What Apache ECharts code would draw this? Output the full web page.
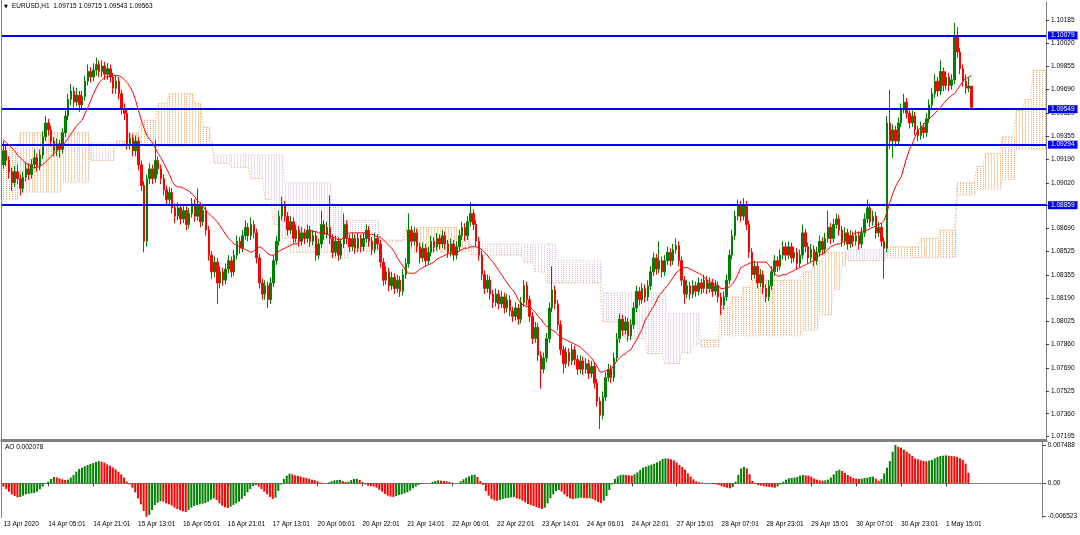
<!DOCTYPE html>
<html><head><meta charset="utf-8">
<script src="https://cdn.jsdelivr.net/npm/echarts@6.0.0/dist/echarts.min.js"></script>
<style>html,body{margin:0;padding:0;background:#fff}#c{width:1080px;height:535px}</style>
</head><body><div id="c"></div>
<script>
const titleText = 'EURUSD,H1  1.09715 1.09715 1.09543 1.09563';
const aoTitle = 'AO 0.002078';
const timeLabels = ['13 Apr 2020','14 Apr 05:01','14 Apr 21:01','15 Apr 13:01','16 Apr 05:01','16 Apr 21:01','17 Apr 13:01','20 Apr 06:01','20 Apr 22:01','21 Apr 14:01','22 Apr 06:01','22 Apr 22:01','23 Apr 14:01','24 Apr 06:01','24 Apr 22:01','27 Apr 15:01','28 Apr 07:01','28 Apr 23:01','29 Apr 15:01','30 Apr 07:01','30 Apr 23:01','1 May 15:01'];
const priceTicks = [1.10185,1.10020,1.09855,1.09690,1.09520,1.09355,1.09190,1.09020,1.08855,1.08690,1.08525,1.08355,1.08190,1.08025,1.07860,1.07690,1.07525,1.07360,1.07195];
const aoTicks = [0.007488, 0, -0.006523];
const levels = [1.10079, 1.09549, 1.09294, 1.08859];

const opens = [
1.0915,1.0925,1.0918,1.0910,1.0902,1.0910,1.0905,1.0898,1.0906,1.0912,
1.0908,1.0915,1.0920,1.0914,1.0922,1.0935,1.0945,1.0940,1.0932,1.0925,
1.0930,1.0926,1.0938,1.0950,1.0962,1.0968,1.0960,1.0965,1.0958,1.0964,
1.0975,1.0982,1.0978,1.0983,1.0987,1.0982,1.0986,1.0980,1.0984,1.0978,
1.0970,1.0975,1.0966,1.0955,1.0952,1.0930,1.0934,1.0925,1.0932,1.0915,
1.0900,1.0860,1.0905,1.0912,1.0905,1.0918,1.0912,1.0905,1.0897,1.0890,
1.0895,1.0884,1.0878,1.0884,1.0876,1.0882,1.0872,1.0880,1.0887,1.0878,
1.0885,1.0874,1.0882,1.0868,1.0850,1.0838,1.0845,1.0830,1.0838,1.0832,
1.0840,1.0846,1.0838,1.0850,1.0860,1.0855,1.0864,1.0870,1.0864,1.0872,
1.0866,1.0848,1.0830,1.0822,1.0828,1.0818,1.0830,1.0846,1.0860,1.0878,
1.0886,1.0878,1.0868,1.0874,1.0862,1.0868,1.0860,1.0866,1.0862,1.0868,
1.0860,1.0864,1.0850,1.0858,1.0872,1.0865,1.0870,1.0862,1.0852,1.0860,
1.0850,1.0858,1.0872,1.0862,1.0856,1.0862,1.0855,1.0862,1.0856,1.0862,
1.0868,1.0860,1.0854,1.0862,1.0858,1.0845,1.0832,1.0838,1.0828,1.0834,
1.0826,1.0832,1.0824,1.0836,1.0844,1.0868,1.0860,1.0866,1.0856,1.0848,
1.0855,1.0846,1.0852,1.0860,1.0856,1.0862,1.0858,1.0864,1.0858,1.0852,
1.0858,1.0850,1.0856,1.0864,1.0870,1.0864,1.0874,1.0880,1.0872,1.0860,
1.0850,1.0836,1.0826,1.0832,1.0822,1.0816,1.0822,1.0815,1.0820,1.0812,
1.0818,1.0810,1.0806,1.0812,1.0804,1.0816,1.0828,1.0818,1.0806,1.0790,
1.0798,1.0778,1.0768,1.0776,1.0790,1.0812,1.0825,1.0815,1.0800,1.0782,
1.0772,1.0780,1.0774,1.0782,1.0775,1.0768,1.0774,1.0768,1.0772,1.0765,
1.0770,1.0758,1.0745,1.0735,1.0748,1.0762,1.0768,1.0762,1.0776,1.0790,
1.0804,1.0796,1.0802,1.0792,1.0800,1.0812,1.0824,1.0818,1.0826,1.0820,
1.0828,1.0838,1.0848,1.0840,1.0846,1.0838,1.0846,1.0852,1.0846,1.0854,
1.0857,1.0846,1.0832,1.0822,1.0828,1.0822,1.0828,1.0824,1.0830,1.0826,
1.0832,1.0826,1.0830,1.0824,1.0828,1.0820,1.0814,1.0820,1.0832,1.0850,
1.0864,1.0878,1.0886,1.0878,1.0886,1.0872,1.0852,1.0836,1.0842,1.0830,
1.0836,1.0826,1.0820,1.0828,1.0838,1.0846,1.0842,1.0850,1.0856,1.0850,
1.0856,1.0848,1.0852,1.0844,1.0850,1.0866,1.0856,1.0848,1.0854,1.0846,
1.0852,1.0860,1.0854,1.0862,1.0870,1.0862,1.0872,1.0876,1.0868,1.0860,
1.0866,1.0858,1.0864,1.0860,1.0864,1.0858,1.0866,1.0876,1.0884,1.0874,
1.0878,1.0866,1.0870,1.0860,1.0855,1.0945,1.0932,1.0940,1.0932,1.0945,
1.0955,1.0960,1.0952,1.0945,1.0950,1.0940,1.0936,1.0942,1.0938,1.0948,
1.0958,1.0966,1.0975,1.0968,1.0982,1.0972,1.0978,1.0972,1.0976,1.1007,
1.0996,1.0984,1.0975,1.0970,1.09715];

const highs = [
1.0932,1.0929,1.0921,1.0913,1.0914,1.0915,1.0908,1.0910,1.0917,1.0916,
1.0919,1.0926,1.0923,1.0926,1.0939,1.0950,1.0948,1.0943,1.0935,1.0934,
1.0933,1.0941,1.0954,1.0966,1.0973,1.0971,1.0970,1.0968,1.0968,1.0979,
1.0987,1.0985,1.0988,1.0992,1.0990,1.0990,1.0989,1.0988,1.0987,1.0981,
1.0979,1.0978,1.0969,1.0959,1.0955,1.0938,1.0937,1.0936,1.0935,1.0918,
1.0903,1.0908,1.0916,1.0915,1.0933,1.0921,1.0915,1.0908,1.0900,1.0899,
1.0898,1.0887,1.0888,1.0887,1.0886,1.0885,1.0884,1.0891,1.0890,1.0898,
1.0888,1.0886,1.0885,1.0871,1.0853,1.0849,1.0848,1.0842,1.0841,1.0844,
1.0850,1.0849,1.0854,1.0864,1.0863,1.0868,1.0875,1.0873,1.0877,1.0875,
1.0869,1.0851,1.0833,1.0832,1.0831,1.0834,1.0850,1.0864,1.0882,1.0892,
1.0889,1.0881,1.0878,1.0877,1.0872,1.0871,1.0870,1.0869,1.0872,1.0871,
1.0868,1.0867,1.0862,1.0882,1.0875,1.0874,1.0893,1.0865,1.0864,1.0863,
1.0862,1.0880,1.0875,1.0865,1.0866,1.0865,1.0866,1.0865,1.0866,1.0872,
1.0871,1.0863,1.0866,1.0865,1.0861,1.0848,1.0842,1.0841,1.0838,1.0837,
1.0836,1.0835,1.0840,1.0848,1.0880,1.0871,1.0870,1.0869,1.0859,1.0859,
1.0858,1.0856,1.0864,1.0863,1.0866,1.0865,1.0868,1.0867,1.0861,1.0862,
1.0861,1.0860,1.0868,1.0874,1.0873,1.0878,1.0888,1.0883,1.0875,1.0863,
1.0853,1.0839,1.0836,1.0835,1.0825,1.0826,1.0825,1.0824,1.0823,1.0822,
1.0821,1.0813,1.0816,1.0815,1.0820,1.0832,1.0831,1.0821,1.0809,1.0802,
1.0801,1.0781,1.0780,1.0794,1.0816,1.0842,1.0828,1.0818,1.0803,1.0785,
1.0784,1.0783,1.0786,1.0785,1.0778,1.0778,1.0777,1.0776,1.0775,1.0774,
1.0773,1.0761,1.0748,1.0752,1.0766,1.0772,1.0771,1.0780,1.0794,1.0808,
1.0807,1.0806,1.0805,1.0804,1.0816,1.0828,1.0827,1.0830,1.0829,1.0832,
1.0842,1.0852,1.0851,1.0860,1.0849,1.0850,1.0856,1.0855,1.0858,1.0862,
1.0860,1.0849,1.0835,1.0832,1.0831,1.0832,1.0831,1.0834,1.0833,1.0836,
1.0835,1.0834,1.0833,1.0832,1.0831,1.0823,1.0824,1.0836,1.0854,1.0868,
1.0882,1.0890,1.0889,1.0891,1.0889,1.0875,1.0855,1.0846,1.0845,1.0840,
1.0839,1.0829,1.0832,1.0842,1.0850,1.0849,1.0854,1.0860,1.0859,1.0860,
1.0859,1.0856,1.0855,1.0854,1.0872,1.0869,1.0859,1.0858,1.0857,1.0856,
1.0864,1.0863,1.0866,1.0882,1.0873,1.0876,1.0880,1.0879,1.0871,1.0870,
1.0869,1.0868,1.0867,1.0868,1.0867,1.0870,1.0880,1.0890,1.0887,1.0882,
1.0881,1.0874,1.0873,1.0863,1.0950,1.0969,1.0944,1.0943,1.0949,1.0959,
1.0966,1.0963,1.0955,1.0954,1.0953,1.0943,1.0946,1.0945,1.0952,1.0962,
1.0970,1.0980,1.0978,1.0990,1.0985,1.0982,1.0981,1.0980,1.1017,1.1014,
1.0999,1.0987,1.0980,1.0978,1.09715];

const lows = [
1.0912,1.0914,1.0905,1.0896,1.0899,1.0901,1.0893,1.0895,1.0903,1.0904,
1.0905,1.0912,1.0910,1.0911,1.0919,1.0932,1.0936,1.0928,1.0921,1.0921,
1.0920,1.0923,1.0935,1.0947,1.0958,1.0956,1.0957,1.0953,1.0955,1.0961,
1.0972,1.0974,1.0975,1.0979,1.0978,1.0978,1.0976,1.0976,1.0974,1.0966,
1.0966,1.0962,1.0951,1.0947,1.0926,1.0926,1.0921,1.0921,1.0911,1.0896,
1.0852,1.0856,1.0901,1.0901,1.0902,1.0908,1.0901,1.0893,1.0886,1.0886,
1.0880,1.0873,1.0875,1.0872,1.0873,1.0868,1.0869,1.0877,1.0874,1.0875,
1.0870,1.0871,1.0864,1.0846,1.0833,1.0834,1.0815,1.0826,1.0828,1.0829,
1.0837,1.0834,1.0835,1.0847,1.0851,1.0852,1.0861,1.0860,1.0861,1.0862,
1.0844,1.0826,1.0818,1.0818,1.0812,1.0815,1.0827,1.0843,1.0857,1.0875,
1.0874,1.0864,1.0865,1.0858,1.0859,1.0856,1.0857,1.0858,1.0859,1.0856,
1.0857,1.0846,1.0847,1.0855,1.0861,1.0862,1.0858,1.0848,1.0849,1.0846,
1.0847,1.0855,1.0858,1.0852,1.0853,1.0851,1.0852,1.0852,1.0853,1.0859,
1.0856,1.0850,1.0851,1.0854,1.0841,1.0828,1.0829,1.0824,1.0825,1.0822,
1.0823,1.0820,1.0821,1.0833,1.0841,1.0856,1.0857,1.0852,1.0844,1.0845,
1.0842,1.0843,1.0849,1.0852,1.0853,1.0854,1.0855,1.0854,1.0848,1.0849,
1.0846,1.0847,1.0853,1.0861,1.0860,1.0861,1.0871,1.0868,1.0856,1.0846,
1.0832,1.0822,1.0823,1.0818,1.0812,1.0813,1.0811,1.0812,1.0808,1.0809,
1.0806,1.0802,1.0803,1.0800,1.0801,1.0813,1.0814,1.0802,1.0786,1.0787,
1.0774,1.0754,1.0765,1.0773,1.0787,1.0809,1.0811,1.0796,1.0778,1.0765,
1.0769,1.0770,1.0771,1.0771,1.0764,1.0765,1.0764,1.0765,1.0761,1.0762,
1.0754,1.0741,1.0725,1.0732,1.0745,1.0759,1.0758,1.0759,1.0773,1.0787,
1.0792,1.0793,1.0788,1.0789,1.0797,1.0809,1.0814,1.0815,1.0816,1.0817,
1.0825,1.0835,1.0836,1.0837,1.0834,1.0835,1.0843,1.0842,1.0843,1.0851,
1.0842,1.0828,1.0815,1.0819,1.0818,1.0819,1.0820,1.0821,1.0822,1.0823,
1.0822,1.0823,1.0820,1.0821,1.0816,1.0807,1.0811,1.0817,1.0829,1.0847,
1.0861,1.0875,1.0874,1.0875,1.0868,1.0848,1.0832,1.0833,1.0826,1.0827,
1.0822,1.0816,1.0817,1.0825,1.0835,1.0838,1.0839,1.0847,1.0846,1.0847,
1.0844,1.0845,1.0840,1.0841,1.0847,1.0852,1.0844,1.0845,1.0842,1.0843,
1.0849,1.0850,1.0851,1.0859,1.0858,1.0859,1.0869,1.0864,1.0856,1.0857,
1.0854,1.0855,1.0856,1.0857,1.0854,1.0855,1.0863,1.0873,1.0870,1.0871,
1.0862,1.0863,1.0856,1.0833,1.0852,1.0926,1.0920,1.0928,1.0929,1.0942,
1.0952,1.0948,1.0941,1.0942,1.0936,1.0932,1.0933,1.0934,1.0935,1.0945,
1.0955,1.0963,1.0964,1.0965,1.0968,1.0969,1.0968,1.0969,1.0973,1.0992,
1.0980,1.0971,1.0966,1.0967,1.09543];

const closes = [
1.0925,1.0918,1.0910,1.0902,1.0910,1.0905,1.0898,1.0906,1.0912,1.0908,
1.0915,1.0920,1.0914,1.0922,1.0935,1.0945,1.0940,1.0932,1.0925,1.0930,
1.0926,1.0938,1.0950,1.0962,1.0968,1.0960,1.0965,1.0958,1.0964,1.0975,
1.0982,1.0978,1.0983,1.0987,1.0982,1.0986,1.0980,1.0984,1.0978,1.0970,
1.0975,1.0966,1.0955,1.0952,1.0930,1.0934,1.0925,1.0932,1.0915,1.0900,
1.0860,1.0905,1.0912,1.0905,1.0918,1.0912,1.0905,1.0897,1.0890,1.0895,
1.0884,1.0878,1.0884,1.0876,1.0882,1.0872,1.0880,1.0887,1.0878,1.0885,
1.0874,1.0882,1.0868,1.0850,1.0838,1.0845,1.0830,1.0838,1.0832,1.0840,
1.0846,1.0838,1.0850,1.0860,1.0855,1.0864,1.0870,1.0864,1.0872,1.0866,
1.0848,1.0830,1.0822,1.0828,1.0818,1.0830,1.0846,1.0860,1.0878,1.0886,
1.0878,1.0868,1.0874,1.0862,1.0868,1.0860,1.0866,1.0862,1.0868,1.0860,
1.0864,1.0850,1.0858,1.0872,1.0865,1.0870,1.0862,1.0852,1.0860,1.0850,
1.0858,1.0872,1.0862,1.0856,1.0862,1.0855,1.0862,1.0856,1.0862,1.0868,
1.0860,1.0854,1.0862,1.0858,1.0845,1.0832,1.0838,1.0828,1.0834,1.0826,
1.0832,1.0824,1.0836,1.0844,1.0868,1.0860,1.0866,1.0856,1.0848,1.0855,
1.0846,1.0852,1.0860,1.0856,1.0862,1.0858,1.0864,1.0858,1.0852,1.0858,
1.0850,1.0856,1.0864,1.0870,1.0864,1.0874,1.0880,1.0872,1.0860,1.0850,
1.0836,1.0826,1.0832,1.0822,1.0816,1.0822,1.0815,1.0820,1.0812,1.0818,
1.0810,1.0806,1.0812,1.0804,1.0816,1.0828,1.0818,1.0806,1.0790,1.0798,
1.0778,1.0768,1.0776,1.0790,1.0812,1.0825,1.0815,1.0800,1.0782,1.0772,
1.0780,1.0774,1.0782,1.0775,1.0768,1.0774,1.0768,1.0772,1.0765,1.0770,
1.0758,1.0745,1.0735,1.0748,1.0762,1.0768,1.0762,1.0776,1.0790,1.0804,
1.0796,1.0802,1.0792,1.0800,1.0812,1.0824,1.0818,1.0826,1.0820,1.0828,
1.0838,1.0848,1.0840,1.0846,1.0838,1.0846,1.0852,1.0846,1.0854,1.0857,
1.0846,1.0832,1.0822,1.0828,1.0822,1.0828,1.0824,1.0830,1.0826,1.0832,
1.0826,1.0830,1.0824,1.0828,1.0820,1.0814,1.0820,1.0832,1.0850,1.0864,
1.0878,1.0886,1.0878,1.0886,1.0872,1.0852,1.0836,1.0842,1.0830,1.0836,
1.0826,1.0820,1.0828,1.0838,1.0846,1.0842,1.0850,1.0856,1.0850,1.0856,
1.0848,1.0852,1.0844,1.0850,1.0866,1.0856,1.0848,1.0854,1.0846,1.0852,
1.0860,1.0854,1.0862,1.0870,1.0862,1.0872,1.0876,1.0868,1.0860,1.0866,
1.0858,1.0864,1.0860,1.0864,1.0858,1.0866,1.0876,1.0884,1.0874,1.0878,
1.0866,1.0870,1.0860,1.0855,1.0945,1.0932,1.0940,1.0932,1.0945,1.0955,
1.0960,1.0952,1.0945,1.0950,1.0940,1.0936,1.0942,1.0938,1.0948,1.0958,
1.0966,1.0975,1.0968,1.0982,1.0972,1.0978,1.0972,1.0976,1.1007,1.0996,
1.0984,1.0975,1.0970,1.09715,1.09563];

const maValues = [
1.0933,1.0931,1.0929,1.0927,1.0925,1.0922,1.0920,1.0918,1.0916,1.0915,
1.0914,1.0913,1.0913,1.0914,1.0915,1.0917,1.0919,1.0921,1.0923,1.0925,
1.0927,1.0929,1.0931,1.0934,1.0937,1.0940,1.0943,1.0945,1.0947,1.0952,
1.0956,1.0961,1.0966,1.0970,1.0974,1.0976,1.0978,1.0978,1.0979,1.0979,
1.0979,1.0979,1.0978,1.0976,1.0974,1.0971,1.0967,1.0961,1.0954,1.0947,
1.0941,1.0936,1.0933,1.0931,1.0927,1.0923,1.0920,1.0916,1.0912,1.0908,
1.0903,1.0900,1.0899,1.0899,1.0898,1.0897,1.0896,1.0894,1.0892,1.0889,
1.0887,1.0885,1.0882,1.0880,1.0878,1.0876,1.0874,1.0871,1.0868,1.0865,
1.0862,1.0860,1.0858,1.0857,1.0856,1.0855,1.0854,1.0853,1.0852,1.0853,
1.0855,1.0856,1.0855,1.0853,1.0851,1.0850,1.0850,1.0851,1.0853,1.0854,
1.0855,1.0856,1.0857,1.0858,1.0858,1.0859,1.0861,1.0864,1.0866,1.0868,
1.0867,1.0867,1.0866,1.0866,1.0866,1.0865,1.0864,1.0863,1.0862,1.0861,
1.0861,1.0863,1.0865,1.0866,1.0866,1.0866,1.0866,1.0866,1.0866,1.0866,
1.0865,1.0865,1.0864,1.0863,1.0863,1.0861,1.0859,1.0857,1.0855,1.0852,
1.0848,1.0845,1.0842,1.0839,1.0837,1.0837,1.0837,1.0838,1.0840,1.0841,
1.0842,1.0843,1.0844,1.0845,1.0847,1.0848,1.0849,1.0850,1.0851,1.0851,
1.0852,1.0852,1.0853,1.0854,1.0855,1.0855,1.0856,1.0856,1.0856,1.0855,
1.0854,1.0852,1.0850,1.0847,1.0845,1.0842,1.0839,1.0836,1.0833,1.0830,
1.0827,1.0825,1.0822,1.0818,1.0815,1.0814,1.0813,1.0813,1.0811,1.0809,
1.0806,1.0804,1.0801,1.0799,1.0798,1.0796,1.0795,1.0793,1.0791,1.0790,
1.0789,1.0788,1.0787,1.0786,1.0785,1.0784,1.0782,1.0780,1.0778,1.0776,
1.0773,1.0770,1.0766,1.0766,1.0767,1.0767,1.0768,1.0771,1.0774,1.0776,
1.0778,1.0779,1.0781,1.0782,1.0786,1.0789,1.0793,1.0797,1.0803,1.0806,
1.0810,1.0813,1.0817,1.0821,1.0823,1.0826,1.0828,1.0831,1.0834,1.0837,
1.0839,1.0841,1.0841,1.0841,1.0840,1.0839,1.0838,1.0837,1.0836,1.0834,
1.0832,1.0831,1.0830,1.0829,1.0828,1.0826,1.0826,1.0827,1.0827,1.0829,
1.0832,1.0836,1.0841,1.0842,1.0843,1.0844,1.0845,1.0845,1.0845,1.0845,
1.0845,1.0845,1.0843,1.0840,1.0837,1.0835,1.0835,1.0836,1.0836,1.0837,
1.0838,1.0839,1.0840,1.0841,1.0842,1.0843,1.0844,1.0845,1.0846,1.0848,
1.0850,1.0851,1.0852,1.0854,1.0856,1.0857,1.0858,1.0858,1.0859,1.0860,
1.0862,1.0863,1.0865,1.0866,1.0866,1.0867,1.0868,1.0868,1.0869,1.0870,
1.0871,1.0872,1.0873,1.0875,1.0881,1.0888,1.0894,1.0899,1.0903,1.0906,
1.0913,1.0920,1.0926,1.0930,1.0935,1.0940,1.0942,1.0944,1.0946,1.0948,
1.0950,1.0952,1.0954,1.0956,1.0959,1.0961,1.0963,1.0965,1.0966,1.0969,
1.0972,1.0975,1.0977,1.0978,1.0979];

const aoValues = [
-0.00065,-0.00111,-0.00163,-0.00215,-0.00247,-0.00273,-0.00267,-0.00241,-0.00215,-0.00202,
-0.00195,-0.00189,-0.00163,-0.00117,-0.00065,-0.00013,0.00033,0.00085,0.00124,0.00117,
0.00098,0.00078,0.00065,0.00072,0.00111,0.00163,0.00228,0.00280,0.00306,0.00332,
0.00358,0.00378,0.00397,0.00417,0.00436,0.00423,0.00404,0.00371,0.00345,0.00312,
0.00273,0.00228,0.00176,0.00111,0.00033,-0.00020,-0.00085,-0.00176,-0.00293,-0.00410,
-0.00540,-0.006523,-0.00618,-0.00521,-0.00423,-0.00378,-0.00352,-0.00358,-0.00391,-0.00410,
-0.00436,-0.00475,-0.00501,-0.00527,-0.00547,-0.00560,-0.00521,-0.00475,-0.00443,-0.00423,
-0.00410,-0.00397,-0.00384,-0.00358,-0.00319,-0.00293,-0.00326,-0.00391,-0.00436,-0.00469,
-0.00482,-0.00456,-0.00423,-0.00391,-0.00358,-0.00306,-0.00247,-0.00176,-0.00111,-0.00052,
-0.00033,-0.00065,-0.00111,-0.00163,-0.00215,-0.00267,-0.00306,-0.00280,-0.00150,-0.00020,
0.00085,0.00150,0.00189,0.00176,0.00156,0.00143,0.00130,0.00117,0.00104,0.00091,
0.00072,0.00059,0.00039,0.00013,-0.00007,-0.00003,0.00020,0.00039,0.00059,0.00065,
0.00068,0.00046,0.00026,0.00033,0.00065,0.00085,0.00091,0.00065,0.00026,-0.00020,
-0.00046,-0.00052,-0.00065,-0.00085,-0.00124,-0.00163,-0.00208,-0.00241,-0.00260,-0.00267,
-0.00247,-0.00228,-0.00215,-0.00195,-0.00176,-0.00143,-0.00098,-0.00065,-0.00033,-0.00013,
0.00002,-0.00007,-0.00001,0.00026,0.00046,0.00059,0.00052,0.00046,0.00039,0.00026,
0.00013,0.00002,0.00007,0.00039,0.00078,0.00111,0.00137,0.00163,0.00169,0.00124,
0.00046,-0.00033,-0.00150,-0.00241,-0.00306,-0.00332,-0.00339,-0.00326,-0.00306,-0.00293,
-0.00286,-0.00273,-0.00267,-0.00293,-0.00312,-0.00339,-0.00371,-0.00404,-0.00423,-0.00443,
-0.00462,-0.00482,-0.00501,-0.00475,-0.00391,-0.00293,-0.00215,-0.00150,-0.00130,-0.00163,
-0.00215,-0.00260,-0.00293,-0.00306,-0.00299,-0.00286,-0.00280,-0.00286,-0.00293,-0.00290,
-0.00306,-0.00332,-0.00365,-0.00384,-0.00339,-0.00247,-0.00130,-0.00020,0.00085,0.00137,
0.00163,0.00169,0.00163,0.00156,0.00153,0.00176,0.00215,0.00260,0.00306,0.00326,
0.00345,0.00365,0.00384,0.00410,0.00436,0.00475,0.00488,0.00482,0.00469,0.00449,
0.00404,0.00358,0.00319,0.00267,0.00195,0.00130,0.00078,0.00039,0.00020,0.00013,
0.00007,0.00000,-0.00007,-0.00013,-0.00020,-0.00033,-0.00052,-0.00072,-0.00085,-0.00098,
-0.00072,0.00033,0.00163,0.00293,0.00319,0.00293,0.00176,0.00046,-0.00013,-0.00033,
-0.00046,-0.00059,-0.00065,-0.00072,-0.00078,-0.00085,-0.00059,-0.00020,0.00033,0.00072,
0.00098,0.00104,0.00111,0.00124,0.00150,0.00163,0.00156,0.00150,0.00130,0.00091,
0.00072,0.00059,0.00052,0.00059,0.00072,0.00111,0.00176,0.00241,0.00267,0.00241,
0.00202,0.00163,0.00130,0.00104,0.00091,0.00085,0.00091,0.00104,0.00111,0.00124,
0.00130,0.00091,0.00052,0.00085,0.00195,0.00306,0.00436,0.00618,0.007488,0.00716,
0.00697,0.00658,0.00618,0.00579,0.00534,0.00488,0.00469,0.00449,0.00436,0.00430,
0.00443,0.00456,0.00488,0.00514,0.00534,0.00540,0.00547,0.00540,0.00534,0.00527,
0.00514,0.00488,0.00456,0.00384,0.002078];

const spanA = [
1.0927,1.0927,1.0927,1.0927,1.0927,1.0927,
1.0938,1.0938,1.0938,1.0938,1.0938,1.0938,1.0938,1.0938,1.0938,1.0938,1.0938,1.0938,1.0938,1.0938,1.0938,1.0938,1.0938,1.0938,1.0938,1.0938,1.0938,1.0938,1.0938,1.0938,1.0938,
1.0918,1.0918,1.0918,1.0918,1.0918,1.0918,1.0918,1.0918,1.0918,
1.0932,1.0932,1.0932,1.0932,1.0932,
1.0938,1.0938,1.0938,1.0938,
1.0947,1.0947,1.0947,1.0947,1.0947,1.0947,
1.0959,1.0959,1.0959,1.0959,
1.0966,1.0966,1.0966,1.0966,1.0966,1.0966,1.0966,1.0966,1.0966,
1.0959,1.0959,1.0959,
1.0942,1.0942,1.0942,
1.0931,
1.0916,1.0916,1.0916,1.0916,1.0916,1.0916,
1.0913,1.0913,1.0913,1.0913,1.0913,1.0913,1.0913,
1.0905,1.0905,1.0905,1.0905,1.0905,
1.0890,1.0890,1.0890,
1.0872,1.0872,1.0872,
1.0862,1.0862,1.0862,
1.0852,1.0852,1.0852,1.0852,1.0852,1.0852,1.0852,1.0852,1.0852,1.0852,1.0852,1.0852,1.0852,1.0852,1.0852,
1.0848,1.0848,1.0848,1.0848,1.0848,1.0848,
1.0853,1.0853,1.0853,1.0853,1.0853,1.0853,1.0853,1.0853,1.0853,1.0853,1.0853,
1.0860,1.0860,1.0860,1.0860,1.0860,1.0860,1.0860,1.0860,1.0860,
1.0870,1.0870,1.0870,1.0870,1.0870,1.0870,1.0870,1.0870,1.0870,1.0870,1.0870,1.0870,1.0870,1.0870,1.0870,1.0870,1.0870,1.0870,1.0870,
1.0866,1.0866,1.0866,1.0866,
1.0850,1.0850,1.0850,1.0850,1.0850,1.0850,1.0850,1.0850,1.0850,1.0850,1.0850,1.0850,1.0850,1.0850,1.0850,1.0850,1.0850,1.0850,1.0850,
1.0845,1.0845,1.0845,1.0845,
1.0838,1.0838,1.0838,1.0838,
1.0830,1.0830,1.0830,1.0830,1.0830,1.0830,1.0830,1.0830,1.0830,1.0830,1.0830,1.0830,1.0830,1.0830,1.0830,1.0830,1.0830,1.0830,1.0830,1.0830,
1.0802,1.0802,1.0802,1.0802,1.0802,1.0802,1.0802,1.0802,
1.0790,1.0790,1.0790,1.0790,1.0790,1.0790,1.0790,1.0790,
1.0779,1.0779,1.0779,1.0779,1.0779,1.0779,
1.0772,1.0772,1.0772,1.0772,1.0772,1.0772,
1.0780,1.0780,1.0780,1.0780,
1.0786,1.0786,1.0786,
1.0789,1.0789,1.0789,1.0789,1.0789,1.0789,1.0789,
1.0812,1.0812,1.0812,1.0812,
1.0820,1.0820,1.0820,1.0820,
1.0827,1.0827,1.0827,
1.0832,1.0832,1.0832,1.0832,1.0832,1.0832,1.0832,1.0832,1.0832,1.0832,1.0832,1.0832,1.0832,1.0832,1.0832,1.0832,1.0832,1.0832,
1.0838,1.0838,1.0838,1.0838,
1.0846,1.0846,1.0846,1.0846,
1.0852,1.0852,1.0852,1.0852,1.0852,1.0852,1.0852,1.0852,
1.0846,1.0846,1.0846,1.0846,1.0846,1.0846,1.0846,1.0846,1.0846,1.0846,1.0846,1.0846,1.0846,1.0846,
1.0856,1.0856,1.0856,1.0856,1.0856,1.0856,1.0856,1.0856,1.0856,1.0856,1.0856,1.0856,
1.0862,1.0862,1.0862,1.0862,1.0862,1.0862,1.0862,
1.0868,1.0868,1.0868,1.0868,1.0868,1.0868,
1.0902,1.0902,1.0902,1.0902,1.0902,1.0902,1.0902,
1.0914,1.0914,1.0914,
1.0923,1.0923,1.0923,1.0923,1.0923,1.0923,
1.0935,1.0935,1.0935,1.0935,1.0935,
1.0954,1.0954,1.0954,
1.0962,1.0962,1.0962,
1.0983,1.0983,1.0983,1.0983,1.0983];

const spanB = [
1.0890,1.0890,1.0890,1.0890,1.0890,1.0890,
1.0895,1.0895,1.0895,1.0895,1.0895,1.0895,1.0895,1.0895,1.0895,1.0895,1.0895,1.0895,1.0895,1.0895,1.0895,
1.0902,1.0902,1.0902,1.0902,1.0902,1.0902,1.0902,1.0902,1.0902,1.0902,
1.0931,1.0931,1.0931,1.0931,1.0931,1.0931,1.0931,1.0931,1.0931,
1.0928,1.0928,1.0928,1.0928,1.0928,1.0928,1.0928,1.0928,1.0928,1.0928,1.0928,1.0928,1.0928,1.0928,1.0928,1.0928,1.0928,1.0928,1.0928,1.0928,1.0928,1.0928,1.0928,1.0928,1.0928,1.0928,1.0928,1.0928,1.0928,1.0928,1.0928,1.0928,1.0928,1.0928,1.0928,
1.0922,1.0922,1.0922,1.0922,1.0922,1.0922,1.0922,1.0922,1.0922,1.0922,1.0922,1.0922,1.0922,1.0922,1.0922,1.0922,1.0922,1.0922,1.0922,1.0922,1.0922,1.0922,1.0922,1.0922,1.0922,
1.0902,1.0902,1.0902,1.0902,1.0902,1.0902,1.0902,1.0902,1.0902,1.0902,1.0902,1.0902,1.0902,1.0902,1.0902,1.0902,1.0902,
1.0886,1.0886,1.0886,1.0886,
1.0875,1.0875,1.0875,1.0875,1.0875,1.0875,1.0875,1.0875,1.0875,1.0875,1.0875,1.0875,1.0875,
1.0861,1.0861,1.0861,1.0861,1.0861,1.0861,1.0861,1.0861,1.0861,1.0861,1.0861,
1.0852,1.0852,1.0852,1.0852,1.0852,1.0852,1.0852,1.0852,1.0852,1.0852,1.0852,1.0852,1.0852,1.0852,1.0852,1.0852,1.0852,1.0852,1.0852,1.0852,1.0852,
1.0858,1.0858,1.0858,1.0858,1.0858,1.0858,1.0858,1.0858,1.0858,1.0858,1.0858,1.0858,1.0858,1.0858,1.0858,1.0858,1.0858,1.0858,1.0858,1.0858,1.0858,1.0858,1.0858,1.0858,1.0858,1.0858,1.0858,1.0858,1.0858,1.0858,1.0858,
1.0846,1.0846,1.0846,1.0846,1.0846,1.0846,1.0846,1.0846,1.0846,1.0846,1.0846,1.0846,1.0846,1.0846,1.0846,1.0846,
1.0823,1.0823,1.0823,1.0823,1.0823,1.0823,1.0823,1.0823,1.0823,1.0823,1.0823,1.0823,1.0823,1.0823,1.0823,1.0823,1.0823,1.0823,1.0823,1.0823,1.0823,1.0823,1.0823,
1.0808,1.0808,1.0808,1.0808,1.0808,1.0808,1.0808,1.0808,1.0808,1.0808,1.0808,1.0808,
1.0784,1.0784,1.0784,1.0784,1.0784,1.0784,1.0784,
1.0792,1.0792,1.0792,1.0792,1.0792,1.0792,1.0792,1.0792,1.0792,1.0792,1.0792,1.0792,1.0792,1.0792,1.0792,1.0792,1.0792,1.0792,1.0792,1.0792,1.0792,1.0792,1.0792,1.0792,1.0792,1.0792,1.0792,1.0792,1.0792,
1.0796,1.0796,1.0796,1.0796,1.0796,1.0796,
1.0807,1.0807,1.0807,1.0807,1.0807,
1.0825,1.0825,1.0825,
1.0842,1.0842,
1.0854,1.0854,1.0854,1.0854,1.0854,1.0854,1.0854,1.0854,1.0854,1.0854,1.0854,1.0854,1.0854,1.0854,
1.0848,1.0848,1.0848,1.0848,1.0848,1.0848,1.0848,1.0848,1.0848,1.0848,1.0848,1.0848,1.0848,1.0848,1.0848,1.0848,1.0848,1.0848,1.0848,1.0848,1.0848,1.0848,1.0848,1.0848,1.0848,
1.0893,1.0893,1.0893,1.0893,1.0893,1.0893,1.0893,
1.0897,1.0897,1.0897,1.0897,1.0897,1.0897,1.0897,1.0897,1.0897,
1.0904,1.0904,1.0904,1.0904,1.0904,
1.0926,1.0926,1.0926,1.0926,1.0926,1.0926,1.0926,1.0926,1.0926,1.0926,1.0926];

const FONT = '"Liberation Sans", Arial, sans-serif';
const N = Math.max(spanA.length, spanB.length);
const cats = [];
for (let i = 0; i < N; i++) cats.push(String(i));
const candles = closes.map((c, i) => [opens[i], c, lows[i], highs[i]]);
const aoData = aoValues.map((v, i) => ({ value: v, itemStyle: { color: (i > 0 && v > aoValues[i - 1]) ? '#008000' : '#FF0000' } }));
const cloudData = spanA.map((a, i) => [i, a, spanB[i]]);
const labelEvery = 16;
const showLabel = (idx) => idx % labelEvery === 0 && idx / labelEvery < timeLabels.length;

const chart = echarts.init(document.getElementById('c'), null, { renderer: 'canvas' });
chart.setOption({
  animation: false,
  backgroundColor: '#ffffff',
  textStyle: { fontFamily: FONT },
  grid: [
    { left: 2, right: 34, top: 2, height: 438 },
    { left: 2, right: 34, top: 441, height: 77 }
  ],
  xAxis: [
    { type: 'category', gridIndex: 0, data: cats, boundaryGap: true,
      axisLine: { show: true, lineStyle: { color: '#808080', width: 3 } },
      axisTick: { show: false }, axisLabel: { show: false }, splitLine: { show: false } },
    { type: 'category', gridIndex: 1, data: cats, boundaryGap: true,
      axisLine: { show: true, lineStyle: { color: '#808080', width: 1 } },
      axisTick: { show: true, alignWithLabel: true, interval: (i) => showLabel(i), length: 3, lineStyle: { color: '#404040' } },
      axisLabel: { interval: (i) => showLabel(i), formatter: (v, i) => timeLabels[i / labelEvery], align: 'left',
        fontSize: 6.5, color: '#000', margin: 3, fontFamily: FONT },
      splitLine: { show: false } }
  ],
  yAxis: [
    { type: 'value', gridIndex: 0, position: 'right', min: 1.071713, max: 1.103194,
      axisLine: { show: true, lineStyle: { color: '#808080' } },
      axisTick: { show: true, customValues: priceTicks, length: 3, lineStyle: { color: '#404040' } },
      axisLabel: { customValues: priceTicks, formatter: (v) => Number(v).toFixed(5), fontSize: 6.5, color: '#000', margin: 5, fontFamily: FONT },
      splitLine: { show: false } },
    { type: 'value', gridIndex: 1, position: 'right', min: -0.006777, max: 0.00827,
      axisLine: { show: true, lineStyle: { color: '#808080' } },
      axisTick: { show: true, customValues: aoTicks, length: 3, lineStyle: { color: '#404040' } },
      axisLabel: { customValues: aoTicks, formatter: (v) => (Math.abs(v) < 1e-9 ? '0.00' : Number(v).toFixed(6)), fontSize: 6.5, color: '#000', margin: 5, fontFamily: FONT },
      splitLine: { show: false } }
  ],
  series: [
    { type: 'custom', name: 'Kumo', xAxisIndex: 0, yAxisIndex: 0, data: cloudData, z: 1, silent: true,
      encode: { x: 0, y: [1, 2] },
      renderItem: (params, api) => {
        const i = api.value(0), a = api.value(1), b = api.value(2);
        const p1 = api.coord([i, a]), p2 = api.coord([i, b]);
        const x = Math.round(p1[0]) + 0.5;
        return { type: 'line', shape: { x1: x, y1: p1[1], x2: x, y2: p2[1] },
          style: { stroke: a >= b ? '#F4A460' : '#D8BFD8', lineWidth: 1, lineDash: [1, 1] } };
      } },
    { type: 'line', name: 'Senkou A', xAxisIndex: 0, yAxisIndex: 0, data: spanA, symbol: 'none', silent: true, z: 1,
      lineStyle: { color: '#F4A460', width: 1, type: [1, 2] } },
    { type: 'line', name: 'Senkou B', xAxisIndex: 0, yAxisIndex: 0, data: spanB, symbol: 'none', silent: true, z: 1,
      lineStyle: { color: '#D8BFD8', width: 1, type: [1, 2] } },
    { type: 'candlestick', name: 'EURUSD', xAxisIndex: 0, yAxisIndex: 0, data: candles, barWidth: 2, z: 4,
      itemStyle: { color: '#008000', color0: '#FF0000', borderColor: '#008000', borderColor0: '#FF0000', borderWidth: 1 },
      markLine: { symbol: ['none', 'none'], silent: true, animation: false, precision: 5,
        lineStyle: { color: '#0000FF', width: 2, type: 'solid' },
        emphasis: { disabled: true },
        label: { show: true, position: 'end', distance: 2, formatter: (p) => Number(p.value).toFixed(5),
          backgroundColor: '#0000FF', color: '#ffffff', fontSize: 6.5, padding: [1, 3, 0, 3], fontFamily: FONT },
        data: levels.map(v => ({ yAxis: v })) } },
    { type: 'line', name: 'MA', xAxisIndex: 0, yAxisIndex: 0, data: maValues, symbol: 'none', silent: true, z: 5,
      lineStyle: { color: '#FF0000', width: 1 } },
    { type: 'bar', name: 'AO', xAxisIndex: 1, yAxisIndex: 1, data: aoData, barWidth: 2, z: 2, silent: true }
  ],
  graphic: [
    { type: 'line', shape: { x1: 1.5, y1: 0, x2: 1.5, y2: 518 }, style: { stroke: '#808080', lineWidth: 1 }, silent: true },
    { type: 'text', left: 4, top: 4, style: { text: '\u25BC', fontSize: 5, fontFamily: 'DejaVu Sans', fill: '#000' }, silent: true },
    { type: 'text', left: 12, top: 3, style: { text: titleText, fontSize: 6.5, fontFamily: FONT, fill: '#000' }, silent: true },
    { type: 'text', left: 5, top: 444, style: { text: aoTitle, fontSize: 6.5, fontFamily: FONT, fill: '#000' }, silent: true }
  ]
});
</script>
</body></html>
